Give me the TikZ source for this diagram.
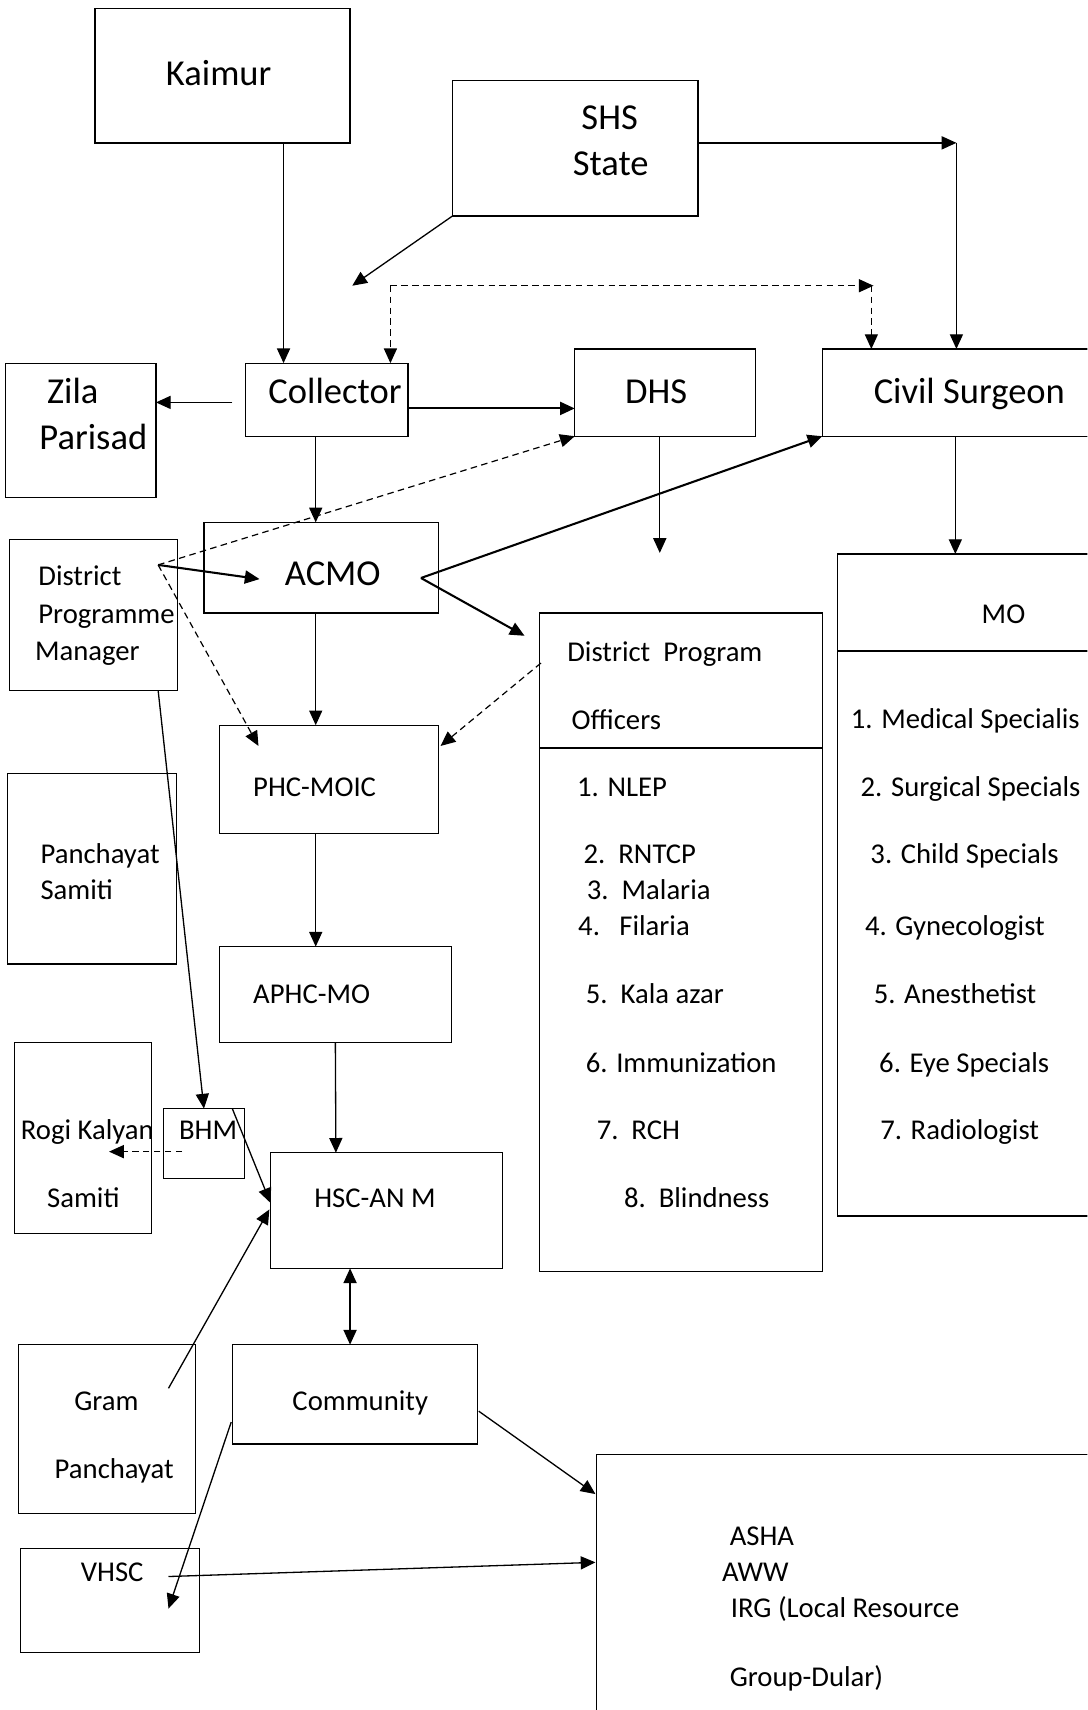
\documentclass[tikz,border=0pt]{standalone}
\usepackage{fontspec}
\setmainfont{Carlito}
\usetikzlibrary{arrows.meta}
\begin{document}
\begin{tikzpicture}[x=1pt,y=-1pt,
  box/.style={draw, line width=1.2pt, inner sep=0pt, outer sep=0pt},
  big/.style={inner sep=0pt, anchor=base west, font=\fontsize{33.5}{40}\selectfont},
  sm/.style={inner sep=0pt, anchor=base west, font=\fontsize{26.3}{31}\selectfont},
  tip/.style={},
  arr/.style={line width=1.2pt, -{Triangle[length=13.5pt,width=12pt]}},
  tarr/.style={line width=1.9pt, -{Triangle[length=13.5pt,width=12pt]}},
  dsh/.style={line width=1.1pt, dash pattern=on 6pt off 4pt},
  dvd/.style={line width=1.2pt}
]
\useasboundingbox (0,0) rectangle (997,1568);
\fill[white] (0,0) rectangle (997,1568);
\clip (0,0) rectangle (997,1568);

% boxes
\node[box, minimum width=234pt, minimum height=123pt] (kaimur) at (204,69.5) {};
\node[box, minimum width=225pt, minimum height=124pt] (shs) at (527.5,136) {};
\node[box, minimum width=149pt, minimum height=67pt] (collector) at (299.5,366.5) {};
\node[box, minimum width=138pt, minimum height=123pt] (zila) at (74,394.5) {};
\node[box, minimum width=166pt, minimum height=80pt] (dhs) at (610,360) {};
\node[box, minimum width=256pt, minimum height=80pt] (civil) at (882,360) {};
\node[box, minimum width=215pt, minimum height=83pt] (acmo) at (294.5,520.5) {};
\node[box, minimum width=154pt, minimum height=138pt] (dpm) at (86,564) {};
\node[box, minimum width=259pt, minimum height=604pt] (dpo) at (624.5,864) {};
\node[box, minimum width=242pt, minimum height=607pt] (mo) at (889,811.5) {};
\node[box, minimum width=201pt, minimum height=99pt] (phc) at (301.5,714.5) {};
\node[box, minimum width=155pt, minimum height=175pt] (ps) at (84.5,796.5) {};
\node[box, minimum width=213pt, minimum height=88pt] (aphc) at (307.5,912) {};
\node[box, minimum width=126pt, minimum height=175pt] (rks) at (76,1043.5) {};
\node[box, minimum width=74pt, minimum height=64pt] (bhm) at (187,1048.5) {};
\node[box, minimum width=213pt, minimum height=106pt] (hsc) at (354.5,1110) {};
\node[box, minimum width=225pt, minimum height=91pt] (comm) at (325.5,1278.5) {};
\node[box, minimum width=162pt, minimum height=155pt] (gp) at (98,1310.5) {};
\node[box, minimum width=164pt, minimum height=95pt] (vhsc) at (101,1467.5) {};
\node[box, minimum width=463pt, minimum height=247pt] (asha) at (778.5,1457.5) {};

% dividers
\draw[dvd] ([yshift=-124pt]dpo.north west) -- ([yshift=-124pt]dpo.north east);
\draw[dvd] ([yshift=-89pt]mo.north west) -- ([yshift=-89pt]mo.north east);

% texts
\node[big] (t-kaimur) at (152,78) {Kaimur};
\node[big] (t-shs) at (533,119) {SHS};
\node[big] (t-state) at (525,161) {State};
\node[big] (t-zila) at (43,370) {Zila};
\node[big] (t-parisad) at (36,412) {Parisad};
\node[big] (t-collector) at (246,370) {Collector};
\node[big] (t-dhs) at (573,370) {DHS};
\node[big] (t-civil) at (801,370) {Civil Surgeon};
\node[big] (t-acmo) at (261,537) {ACMO};

\node[sm] (t-dpm1) at (35,537) {District};
\node[sm] (t-dpm2) at (35,572) {Programme};
\node[sm] (t-dpm3) at (32,606) {Manager};
\node[sm] (t-dpo1) at (520,607) {District\ \ Program};
\node[sm] (t-dpo2) at (524,669) {Officers};
\node[sm] (t-mo) at (900,572) {MO};
\node[sm] (t-phc) at (232,730) {PHC-MOIC};

\node[sm] (t-p1) at (529,730) {1. NLEP};
\node[sm] (t-p2) at (535,792) {2.\ \ RNTCP};
\node[sm] (t-p3) at (538,825) {3.\ \ Malaria};
\node[sm] (t-p4) at (530,858) {4.\ \ \ Filaria};
\node[sm] (t-p5) at (537,920) {5.\ \ Kala azar};
\node[sm] (t-p6) at (537,983) {6. Immunization};
\node[sm] (t-p7) at (547,1045) {7.\ \ RCH};
\node[sm] (t-p8) at (572,1107) {8.\ \ Blindness};

\node[sm] (t-m1) at (780,668) {1. Medical Specialis};
\node[sm] (t-m2) at (789,730) {2. Surgical Specials};
\node[sm] (t-m3) at (798,792) {3. Child Specials};
\node[sm] (t-m4) at (793,858) {4. Gynecologist};
\node[sm] (t-m5) at (801,920) {5. Anesthetist};
\node[sm] (t-m6) at (806,983) {6. Eye Specials};
\node[sm] (t-m7) at (807,1045) {7. Radiologist};

\node[sm] (t-ps1) at (37,792) {Panchayat};
\node[sm] (t-ps2) at (37,825) {Samiti};
\node[sm] (t-aphc) at (232,920) {APHC-MO};
\node[sm] (t-rks1) at (19,1045) {Rogi Kalyan};
\node[sm] (t-rks2) at (43,1107) {Samiti};
\node[sm] (t-bhm) at (164,1045) {BHM};
\node[sm] (t-hsc) at (288,1107) {HSC-AN M};
\node[sm] (t-comm) at (268,1293) {Community};
\node[sm] (t-gp1) at (68,1293) {Gram};
\node[sm] (t-gp2) at (50,1356) {Panchayat};
\node[sm] (t-vhsc) at (74,1450) {VHSC};
\node[sm] (t-asha1) at (669,1417) {ASHA};
\node[sm] (t-asha2) at (662,1450) {AWW};
\node[sm] (t-asha3) at (670,1483) {IRG (Local Resource};
\node[sm] (t-asha4) at (669,1546) {Group-Dular)};

% free-end coordinates
\coordinate (shsT) at (323,262);
\coordinate (shsC) at (877,131);
\coordinate (dA) at (358,262);
\coordinate (dB) at (801,262);
\coordinate (dC) at (799,262);
\coordinate (zs) at (213,369);
\coordinate (dpmP) at (145,518);
\coordinate (dhsT) at (605,507);
\coordinate (acP) at (386,530);
\coordinate (dpoT) at (481,583);
\coordinate (acT) at (238,531);
\coordinate (phT) at (237,684);
\coordinate (dpoP) at (496,608);
\coordinate (phT2) at (404,684);
\coordinate (hscT1) at (248,1103);
\coordinate (bhmP) at (167,1056);
\coordinate (rksT) at (100,1056);
\coordinate (gpP) at (154.5,1273);
\coordinate (hscT2) at (247,1109);
\coordinate (commP) at (439,1294);
\coordinate (ashaT) at (546,1370);
\coordinate (commQ) at (212,1304);
\coordinate (vhscT) at (154.5,1475);
\coordinate (vhscP) at (154.5,1445.6);
\coordinate (ashaT2) at (546,1432.6);

% connectors
\draw[arr] ([xshift=56pt]kaimur.south) -- ([xshift=-39.5pt]collector.north);
\draw[arr] (shs.south west) -- (shsT);
\draw[arr] ([yshift=5pt]shs.east) -- (shsC);
\draw[arr] (shsC) -- ([xshift=-5pt]civil.north);
\draw[arr,dsh] (dA) -- ([xshift=58.5pt]collector.north);
\draw[arr,dsh] (dA) -- (dB);
\draw[arr,dsh] (dC) -- ([xshift=-83pt]civil.north);
\draw[arr] (zs) -- (zila.east |- zs);
\draw[tarr] ([yshift=-8pt]collector.east) -- ([yshift=-14.5pt]dhs.west);
\draw[arr] ([xshift=-10pt]collector.south) -- ([xshift=-5pt]acmo.north);
\draw[arr,dsh] (dpmP) -- (dhs.south west);
\draw[arr] (dhs.south -| dhsT) -- (dhsT);
\draw[arr] ([xshift=-6pt]civil.south) -- ([xshift=-13pt]mo.north);
\draw[tarr] (acP) -- (civil.south west);
\draw[tarr] (acP) -- (dpoT);
\draw[tarr] (dpmP) -- (acT);
\draw[arr,dsh] (dpmP) -- (phT);
\draw[arr,dsh] (dpoP) -- (phT2);
\draw[arr] ([xshift=-5pt]acmo.south) -- ([xshift=-12pt]phc.north);
\draw[arr] ([xshift=-12pt]phc.south) -- ([xshift=-18pt]aphc.north);
\draw[arr] (aphc.south) -- ([xshift=-46.5pt]hsc.north);
\draw[arr] ([xshift=59pt]dpm.south) -- (bhm.north);
\draw[arr] ([xshift=26pt]bhm.north) -- (hscT1);
\draw[arr,dsh] (bhmP) -- (rksT);
\draw[arr] (gpP) -- (hscT2);
\draw[line width=1.2pt, {Triangle[length=13.5pt,width=12pt]}-{Triangle[length=13.5pt,width=12pt]}] ([xshift=-33.5pt]hsc.south) -- ([xshift=-4.5pt]comm.north);
\draw[arr] (commP) -- (ashaT);
\draw[arr] (commQ) -- (vhscT);
\draw[arr] (vhscP) -- (ashaT2);
\end{tikzpicture}
\end{document}
